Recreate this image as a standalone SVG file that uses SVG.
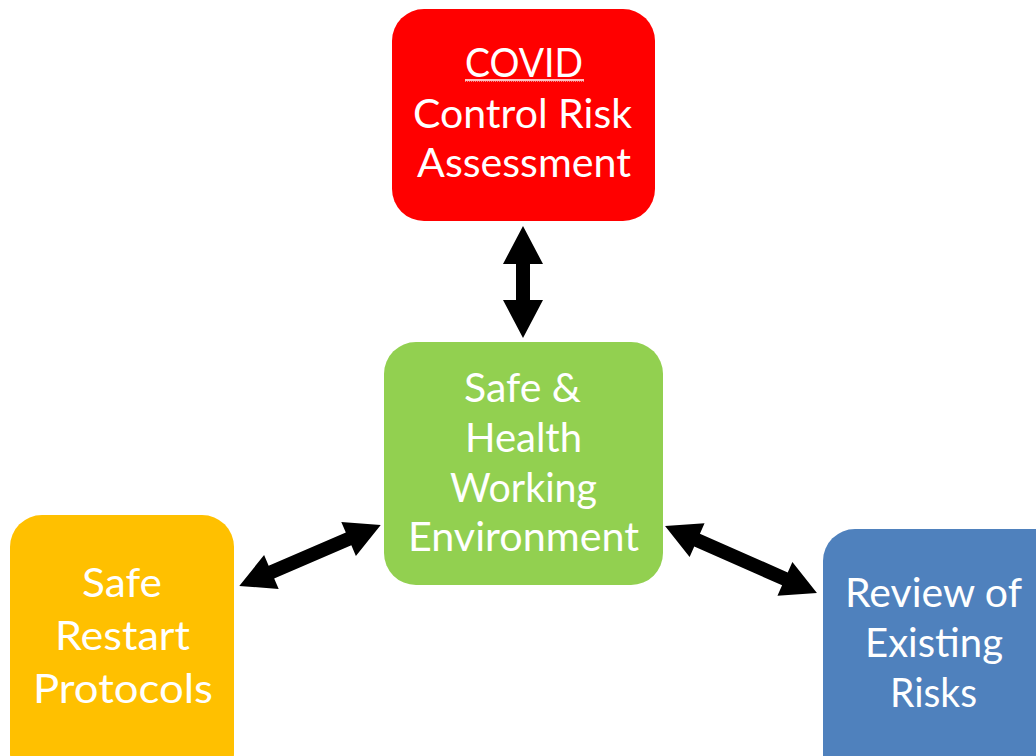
<svg xmlns="http://www.w3.org/2000/svg" width="1036" height="756" viewBox="0 0 1036 756">
<style>
.lbl{font-family:Lato,"Open Sans",sans-serif;font-size:40px;fill:#fff;text-anchor:middle}
.arrow{fill:#000}
</style>
<rect width="1036" height="756" fill="#fff"/>
<g id="covid">
<rect x="392" y="9" width="263" height="212" rx="32" fill="#FF0000"/>
<text class="lbl" x="524" y="77" textLength="118" lengthAdjust="spacingAndGlyphs">COVID</text>
<line x1="465" y1="80" x2="584" y2="80" stroke="#fff" stroke-width="1.5"/>
<line x1="465" y1="81.5" x2="584" y2="81.5" stroke="#e88" stroke-width="1" stroke-dasharray="1,1"/>
<text class="lbl" x="522.5" y="128" textLength="219" lengthAdjust="spacingAndGlyphs">Control Risk</text>
<text class="lbl" x="524" y="177" textLength="214" lengthAdjust="spacingAndGlyphs">Assessment</text>
</g>
<g id="center">
<rect x="384" y="342" width="279" height="243" rx="32" fill="#92D050"/>
<text class="lbl" x="522.5" y="402" textLength="117" lengthAdjust="spacingAndGlyphs">Safe &amp;</text>
<text class="lbl" x="523.5" y="452" textLength="117" lengthAdjust="spacingAndGlyphs">Health</text>
<text class="lbl" x="523.5" y="502" textLength="147" lengthAdjust="spacingAndGlyphs">Working</text>
<text class="lbl" x="523.5" y="551" textLength="231" lengthAdjust="spacingAndGlyphs">Environment</text>
</g>
<g id="restart">
<rect x="10" y="515" width="224" height="270" rx="32" fill="#FFC000"/>
<text class="lbl" x="122" y="597" textLength="80" lengthAdjust="spacingAndGlyphs">Safe</text>
<text class="lbl" x="122.5" y="650" textLength="135" lengthAdjust="spacingAndGlyphs">Restart</text>
<text class="lbl" x="123" y="703" textLength="180" lengthAdjust="spacingAndGlyphs">Protocols</text>
</g>
<g id="review">
<rect x="823" y="529" width="250" height="260" rx="32" fill="#4F81BD"/>
<text class="lbl" x="933.5" y="607" textLength="177" lengthAdjust="spacingAndGlyphs">Review of</text>
<text class="lbl" x="934" y="657" textLength="138" lengthAdjust="spacingAndGlyphs">Existing</text>
<text class="lbl" x="933.5" y="707" textLength="87" lengthAdjust="spacingAndGlyphs">Risks</text>
</g>
<g id="connectors">
<path class="arrow" transform="translate(523,282) rotate(90)" d="M-56,0 L-18,-20 L-18,-7 L18,-7 L18,-20 L56,0 L18,20 L18,7 L-18,7 L-18,20 Z"/>
<path class="arrow" transform="translate(310,555.5) rotate(-23.25)" d="M-77,0 L-42,-18.5 L-42,-7 L42,-7 L42,-18.5 L77,0 L42,18.5 L42,7 L-42,7 L-42,18.5 Z"/>
<path class="arrow" transform="translate(741,559.5) rotate(23.8)" d="M-83,0 L-48,-18.5 L-48,-7 L48,-7 L48,-18.5 L83,0 L48,18.5 L48,7 L-48,7 L-48,18.5 Z"/>
</g>
</svg>
